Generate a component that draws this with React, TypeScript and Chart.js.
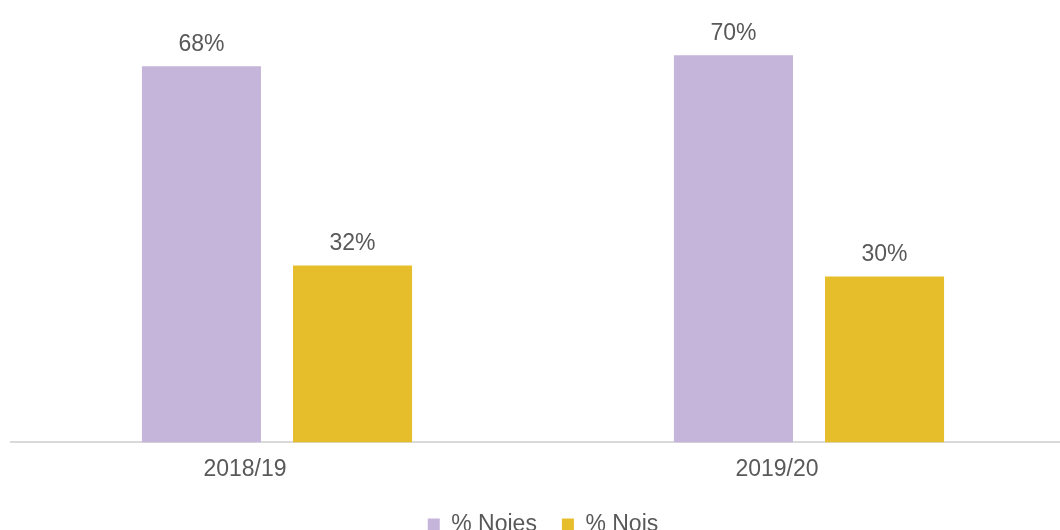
import React, { useEffect, useRef } from "react";
import { Chart, registerables } from "chart.js";

Chart.register(...registerables);

const categories = ["2018/19", "2019/20"];
const noiesValues = [68, 70];
const noisValues = [32, 30];
const seriesNames = ["% Noies", "% Nois"];
const colors = ["#C5B5DA", "#E6BD2A"];

const FONT = "'Liberation Sans', Arial, sans-serif";
const TEXT = "#595959";

const valueLabels = {
  id: "valueLabels",
  afterDatasetsDraw(chart: any) {
    const ctx = chart.ctx;
    ctx.save();
    ctx.font = `23px ${FONT}`;
    ctx.fillStyle = TEXT;
    ctx.textAlign = "center";
    ctx.textBaseline = "bottom";
    chart.data.datasets.forEach((ds: any, i: number) => {
      const meta = chart.getDatasetMeta(i);
      meta.data.forEach((bar: any, j: number) => {
        ctx.fillText(`${ds.data[j]}%`, bar.x, bar.y - 10);
      });
    });
    ctx.restore();
  },
};

export default function App() {
  const ref = useRef<HTMLCanvasElement>(null);
  useEffect(() => {
    document.body.style.margin = "0";
    const chart = new Chart(ref.current!, {
      type: "bar",
      data: {
        labels: categories,
        datasets: [
          { label: seriesNames[0], data: noiesValues, backgroundColor: colors[0] },
          { label: seriesNames[1], data: noisValues, backgroundColor: colors[1] },
        ],
      },
      options: {
        responsive: false,
        animation: false,
        layout: { padding: { left: 11, top: 0, right: 0, bottom: 10 } },
        datasets: {
          bar: { categoryPercentage: 0.568, barPercentage: 0.788 },
        } as any,
        scales: {
          x: {
            grid: { display: false },
            border: { display: true, color: "#D9D9D9", width: 2 },
            ticks: {
              font: { family: FONT, size: 23 },
              color: TEXT,
              padding: 5,
              labelOffset: -32,
            },
          },
          y: {
            display: false,
            min: 0,
            max: 80,
          },
        },
        plugins: {
          legend: {
            position: "bottom",
            labels: {
              font: { family: FONT, size: 23 },
              color: TEXT,
              boxWidth: 12,
              boxHeight: 12,
              padding: 25,
            },
          },
          tooltip: { enabled: false },
        },
      },
      plugins: [valueLabels],
    });
    return () => chart.destroy();
  }, []);
  return (
    <div style={{ width: 1060, height: 530, overflow: "hidden", position: "relative" }}>
      <canvas ref={ref} width={1075} height={556} style={{ display: "block" }} />
    </div>
  );
}
